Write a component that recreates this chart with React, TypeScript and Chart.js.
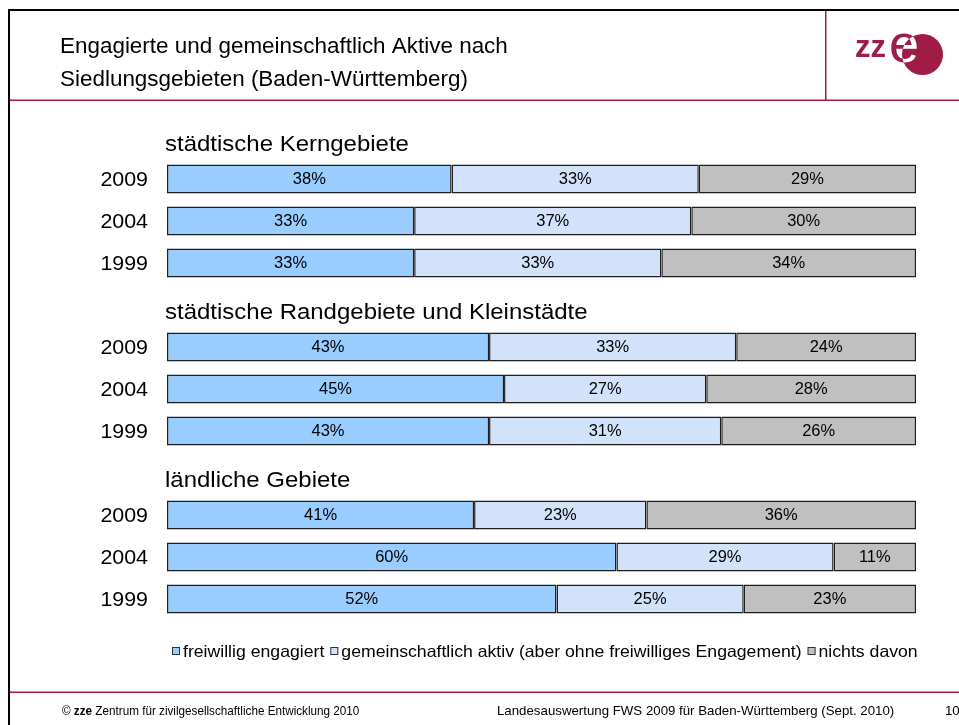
import React, { useEffect, useRef } from "react";
import { Chart, registerables } from "chart.js";

Chart.register(...registerables);

const groupTitles = [
  "städtische Kerngebiete",
  "städtische Randgebiete und Kleinstädte",
  "ländliche Gebiete",
];
const years = ["2009", "2004", "1999"];

// one row per bar, with an empty spacer row between the groups
const freiwillig = [38, 33, 33, null, 43, 45, 43, null, 41, 60, 52];
const gemeinschaftlich = [33, 37, 33, null, 33, 27, 31, null, 23, 29, 25];
const nichts = [29, 30, 34, null, 24, 28, 26, null, 36, 11, 23];

const seriesNames = [
  "freiwillig engagiert",
  "gemeinschaftlich aktiv (aber ohne freiwilliges Engagement)",
  "nichts davon",
];
const seriesColors = ["#99CCFF", "#D2E2FA", "#C0C0C0"];

const titleLines = [
  "Engagierte und gemeinschaftlich Aktive nach",
  "Siedlungsgebieten (Baden-Württemberg)",
];
const footerLeft = "Zentrum für zivilgesellschaftliche Entwicklung 2010";
const footerRight = "Landesauswertung FWS 2009 für Baden-Württemberg (Sept. 2010)";
const pageNumber = "10";

const FONT = '"Liberation Sans", Arial, Helvetica, sans-serif';
const MAROON = "#9E1C45";

const labels: string[] = [];
groupTitles.forEach((_, g) => {
  if (g > 0) labels.push("");
  years.forEach((y) => labels.push(y));
});

function txt(
  ctx: CanvasRenderingContext2D,
  s: string,
  x: number,
  y: number,
  size: number,
  sx: number,
  align: CanvasTextAlign = "left",
  weight = ""
) {
  ctx.save();
  ctx.font = `${weight} ${size}px ${FONT}`;
  ctx.textAlign = align;
  ctx.textBaseline = "middle";
  ctx.translate(x, y);
  ctx.scale(sx, 1);
  ctx.fillText(s, 0, 0);
  const w = ctx.measureText(s).width * sx;
  ctx.restore();
  return w;
}

const slidePlugin = {
  id: "slide",
  beforeDraw(chart: any) {
    const ctx = chart.ctx;
    ctx.save();
    ctx.fillStyle = "#ffffff";
    ctx.fillRect(0, 0, chart.width, chart.height);
    ctx.restore();
  },
  afterDatasetsDraw(chart: any) {
    const ctx = chart.ctx;
    ctx.save();
    ctx.fillStyle = "#000";
    chart.data.datasets.forEach((ds: any, i: number) => {
      const meta = chart.getDatasetMeta(i);
      meta.data.forEach((el: any, j: number) => {
        const v = ds.data[j];
        if (v == null) return;
        const p = el.getProps(["x", "y", "base"], true);
        txt(ctx, v + "%", (p.x + p.base) / 2, p.y + 1, 16, 1.03, "center");
      });
    });
    ctx.restore();
  },
  afterDraw(chart: any) {
    const ctx = chart.ctx;
    const area = chart.chartArea;
    const yScale = chart.scales.y;
    ctx.save();

    // frame lines
    ctx.fillStyle = "#000";
    ctx.fillRect(8, 9, 951, 2);
    ctx.fillRect(8, 9, 2, 716);
    ctx.fillStyle = MAROON;
    ctx.fillRect(825, 11, 1.5, 89);
    ctx.fillRect(10, 99.5, 949, 1.5);
    ctx.fillRect(10, 691.5, 949, 1.5);

    // title
    ctx.fillStyle = "#000";
    txt(ctx, titleLines[0], 60, 47, 22, 1.02);
    txt(ctx, titleLines[1], 60, 80, 22, 1.02);

    // logo
    ctx.fillStyle = MAROON;
    ctx.textBaseline = "alphabetic";
    ctx.textAlign = "left";
    ctx.font = `bold 31px ${FONT}`;
    ctx.fillText("zz", 855, 57);
    ctx.beginPath();
    ctx.arc(922.5, 54.5, 20.5, 0, Math.PI * 2);
    ctx.fill();
    ctx.font = `54px ${FONT}`;
    ctx.fillText("e", 889, 62);
    ctx.save();
    ctx.beginPath();
    ctx.arc(922.5, 54.5, 20.5, 0, Math.PI * 2);
    ctx.clip();
    ctx.fillStyle = "#fff";
    ctx.fillText("e", 889, 62);
    ctx.restore();

    // group headings
    ctx.fillStyle = "#000";
    groupTitles.forEach((t, g) => {
      const y = yScale.getPixelForValue(g * 4) - 34;
      txt(ctx, t, area.left - 2, y, 22, 1.09);
    });

    // year labels
    labels.forEach((l, j) => {
      if (!l) return;
      txt(ctx, l, area.left - 19, yScale.getPixelForValue(j) + 1, 20, 1.07, "right");
    });

    // legend
    let x = 172;
    const ly = 651;
    chart.data.datasets.forEach((ds: any) => {
      ctx.fillStyle = ds.backgroundColor;
      ctx.fillRect(x, ly - 4, 8, 8);
      ctx.strokeStyle = "#333";
      ctx.lineWidth = 1;
      ctx.strokeRect(x + 0.5, ly - 3.5, 7, 7);
      ctx.fillStyle = "#000";
      const w = txt(ctx, ds.label, x + 11, ly + 1, 16.5, 1.07);
      x += 11 + w + 6;
    });

    // footer
    ctx.fillStyle = "#000";
    let fx = 62;
    fx += txt(ctx, "© ", fx, 711, 13, 0.9);
    fx += txt(ctx, "zze ", fx, 711, 13, 0.9, "left", "bold");
    txt(ctx, footerLeft, fx, 711, 13, 0.9);
    txt(ctx, footerRight, 497, 711, 13, 1.02);
    txt(ctx, pageNumber, 945, 711, 13, 1.02);

    ctx.restore();
  },
};

export default function App() {
  const canvasRef = useRef<HTMLCanvasElement | null>(null);

  useEffect(() => {
    document.body.style.margin = "0";
    const canvas = canvasRef.current;
    if (!canvas) return;
    const mk = (label: string, data: (number | null)[], color: string) => ({
      label,
      data,
      backgroundColor: color,
      borderColor: "#1e1e1e",
      borderWidth: 1.5,
      borderSkipped: false,
      inflateAmount: 0,
      barPercentage: 29 / 42,
      categoryPercentage: 1,
    });
    const chart = new Chart(canvas, {
      type: "bar",
      data: {
        labels,
        datasets: [
          mk(seriesNames[0], freiwillig, seriesColors[0]),
          mk(seriesNames[1], gemeinschaftlich, seriesColors[1]),
          mk(seriesNames[2], nichts, seriesColors[2]),
        ],
      },
      options: {
        indexAxis: "y",
        responsive: false,
        animation: false,
        layout: { padding: { left: 167, right: 43, top: 158, bottom: 105 } },
        plugins: { legend: { display: false }, tooltip: { enabled: false } },
        scales: {
          x: { stacked: true, min: 0, max: 100, display: false },
          y: { stacked: true, display: false, offset: true },
        },
      } as any,
      plugins: [slidePlugin],
    });
    return () => chart.destroy();
  }, []);

  return (
    <div style={{ position: "absolute", left: 0, top: 0 }}>
      <canvas ref={canvasRef} width={959} height={725} style={{ display: "block" }} />
    </div>
  );
}
